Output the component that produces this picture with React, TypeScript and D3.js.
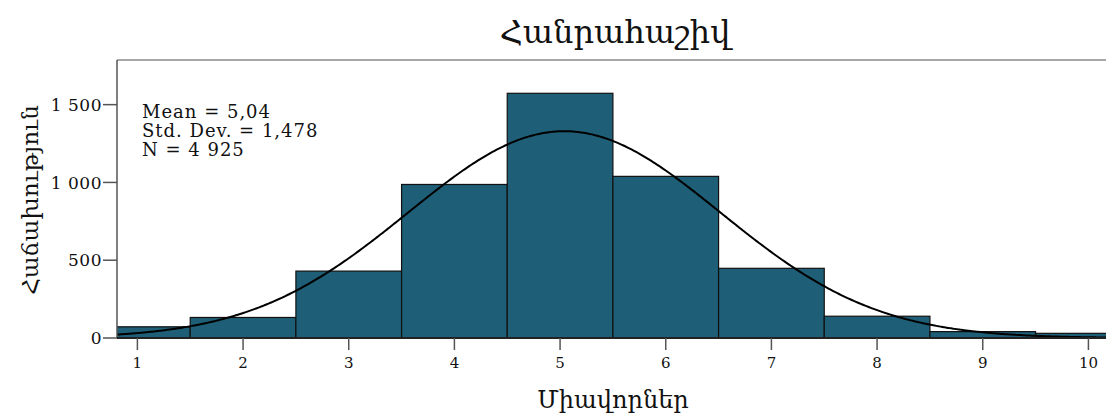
import React, { useRef, useEffect } from "react";
import * as d3 from "d3";

// histogram bins (centre of each unit-wide bin) and their counts
const binCenters = [1, 2, 3, 4, 5, 6, 7, 8, 9, 10];
const binCounts = [72, 132, 430, 987, 1573, 1039, 448, 140, 41, 30];
const xTicks = [1, 2, 3, 4, 5, 6, 7, 8, 9, 10];
const yTicks = [0, 500, 1000, 1500];
const statLines = ["Mean = 5,04", "Std. Dev. = 1,478", "N = 4 925"];
const MEAN = 5.04;
const SD = 1.478;
const N = 4925;

const width = 1106;
const height = 417;
const margin = { top: 60, left: 117, bottom: 338 };
const font = "'DejaVu Serif', serif";

const fmt = (v: number) => d3.format(",")(v).replace(/,/g, " ");

const App = () => {
  const svgRef = useRef<SVGSVGElement>(null);

  useEffect(() => {
    const svg = d3.select(svgRef.current);
    svg.selectAll("*").remove();

    const x = d3.scaleLinear().domain([0.807, 10.19]).range([margin.left, 1108.5]);
    const y = d3.scaleLinear().domain([0, 1787]).range([margin.bottom, margin.top]);

    svg
      .append("defs")
      .append("clipPath")
      .attr("id", "plot-clip")
      .append("rect")
      .attr("x", margin.left)
      .attr("y", margin.top - 2)
      .attr("width", width - margin.left)
      .attr("height", margin.bottom - margin.top + 2);

    const plot = svg.append("g").attr("clip-path", "url(#plot-clip)");

    // bars
    plot
      .selectAll("rect.bar")
      .data(binCenters)
      .enter()
      .append("rect")
      .attr("class", "bar")
      .attr("x", (d) => x(d - 0.5))
      .attr("y", (d, i) => y(binCounts[i]))
      .attr("width", (d) => x(d + 0.5) - x(d - 0.5))
      .attr("height", (d, i) => y(0) - y(binCounts[i]))
      .attr("fill", "#1e5e76")
      .attr("stroke", "#111")
      .attr("stroke-width", 1.2);

    // normal curve from the shown mean / sd
    const pdf = (v: number) =>
      (N / (SD * Math.sqrt(2 * Math.PI))) * Math.exp(-0.5 * ((v - MEAN) / SD) ** 2);
    const pts = d3.range(0.8, 10.3, 0.02);
    const line = d3
      .line<number>()
      .x((d) => x(d))
      .y((d) => y(pdf(d)))
      .curve(d3.curveBasis);
    plot
      .append("path")
      .datum(pts)
      .attr("d", line)
      .attr("fill", "none")
      .attr("stroke", "#000")
      .attr("stroke-width", 2);

    // frame top
    svg
      .append("line")
      .attr("x1", margin.left)
      .attr("x2", width)
      .attr("y1", margin.top)
      .attr("y2", margin.top)
      .attr("stroke", "#8a8a8a")
      .attr("stroke-width", 1.5);

    // y axis
    const yAxis = svg.append("g").attr("transform", `translate(${margin.left},0)`);
    yAxis
      .append("line")
      .attr("y1", margin.top)
      .attr("y2", margin.bottom)
      .attr("stroke", "#555")
      .attr("stroke-width", 1.5);
    const yt = yAxis.selectAll("g.tick").data(yTicks).enter().append("g").attr("class", "tick");
    yt.append("line")
      .attr("x1", -14)
      .attr("x2", 0)
      .attr("y1", (d) => y(d))
      .attr("y2", (d) => y(d))
      .attr("stroke", "#555")
      .attr("stroke-width", 1.5);
    yt.append("text")
      .attr("x", -15)
      .attr("y", (d) => y(d))
      .attr("dy", "0.36em")
      .attr("text-anchor", "end")
      .attr("font-family", font)
      .attr("font-size", 17)
      .attr("letter-spacing", 0.5)
      .attr("fill", "#111")
      .text((d) => fmt(d));

    // x axis
    const xAxis = svg.append("g").attr("transform", `translate(0,${margin.bottom})`);
    xAxis
      .append("line")
      .attr("x1", margin.left)
      .attr("x2", width)
      .attr("stroke", "#222")
      .attr("stroke-width", 2);
    const xt = xAxis.selectAll("g.tick").data(xTicks).enter().append("g").attr("class", "tick");
    xt.append("line")
      .attr("x1", (d) => x(d))
      .attr("x2", (d) => x(d))
      .attr("y1", 0)
      .attr("y2", 12)
      .attr("stroke", "#555")
      .attr("stroke-width", 1.5);
    xt.append("text")
      .attr("x", (d) => x(d))
      .attr("y", 30)
      .attr("text-anchor", "middle")
      .attr("font-family", font)
      .attr("font-size", 15)
      .attr("fill", "#111")
      .text((d) => d);

    // stats box
    svg
      .append("g")
      .selectAll("text")
      .data(statLines)
      .enter()
      .append("text")
      .attr("x", 142)
      .attr("y", (d, i) => 118 + i * 19)
      .attr("font-family", font)
      .attr("font-size", 18)
      .attr("letter-spacing", 1)
      .attr("fill", "#111")
      .text((d) => d);

    // titles
    svg
      .append("text")
      .attr("x", 615)
      .attr("y", 43)
      .attr("text-anchor", "middle")
      .attr("font-family", font)
      .attr("font-size", 32)
      .attr("fill", "#111")
      .text("Հանրահաշիվ");

    svg
      .append("text")
      .attr("x", 613)
      .attr("y", 408)
      .attr("text-anchor", "middle")
      .attr("font-family", font)
      .attr("font-size", 24)
      .attr("fill", "#111")
      .text("Միավորներ");

    svg
      .append("text")
      .attr("transform", "translate(38,200) rotate(-90)")
      .attr("text-anchor", "middle")
      .attr("font-family", font)
      .attr("font-size", 23)
      .attr("fill", "#111")
      .text("Հաճախություն");
  }, []);

  return (
    <div style={{ position: "absolute", left: 0, top: 0 }}>
      <svg ref={svgRef} width={width} height={height} style={{ display: "block", background: "#fff" }} />
    </div>
  );
};

export default App;
